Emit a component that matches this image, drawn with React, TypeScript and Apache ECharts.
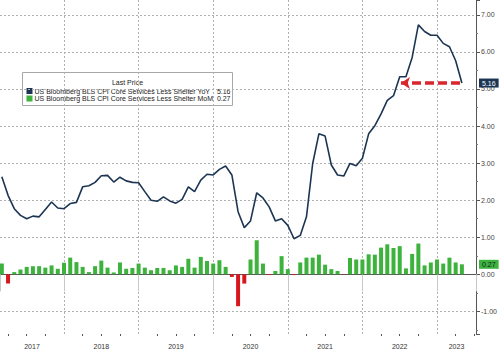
import React, { useEffect, useRef } from "react";
import * as echarts from "echarts";

// Month index (months since Jan 2017) of the first observation
const START_MONTH = 2;
const YEARS = [2017, 2018, 2019, 2020, 2021, 2022, 2023];

const YOY = [
  2.63, 2.13, 1.77, 1.59, 1.5, 1.57, 1.55, 1.75, 1.95, 1.79,
  1.77, 1.91, 1.94, 2.36, 2.39, 2.48, 2.66, 2.67, 2.49, 2.62,
  2.52, 2.48, 2.47, 2.23, 2.0, 1.97, 2.09, 1.98, 1.92, 2.02,
  2.36, 2.23, 2.54, 2.7, 2.68, 2.83, 2.92, 2.68, 1.69, 1.26,
  1.44, 2.2, 2.06, 1.82, 1.44, 1.5, 1.32, 0.96, 1.05, 1.55,
  2.99, 3.79, 3.73, 2.95, 2.68, 2.65, 2.99, 2.93, 3.13, 3.79,
  4.01, 4.33, 4.69, 4.82, 5.33, 5.33, 5.85, 6.73, 6.55, 6.45,
  6.45, 6.23, 6.14, 5.76, 5.16,
];

const MOM = [
  0.29, -0.25, 0.06, 0.13, 0.2, 0.22, 0.22, 0.18, 0.24, 0.15,
  0.31, 0.45, 0.33, 0.2, 0.06, 0.22, 0.37, 0.18, 0.05, 0.32,
  0.15, 0.17, 0.29, 0.18, 0.11, 0.17, 0.17, 0.11, 0.24, 0.2,
  0.42, 0.18, 0.47, 0.36, 0.29, 0.38, 0.2, -0.07, -0.86, -0.25,
  0.4, 0.92, 0.29, -0.02, 0.09, 0.49, 0.14, -0.02, 0.32, 0.45,
  0.45, 0.53, 0.26, 0.14, 0.09, -0.01, 0.44, 0.4, 0.4, 0.54,
  0.53, 0.72, 0.81, 0.71, 0.76, 0.16, 0.55, 0.83, 0.24, 0.32,
  0.4, 0.29, 0.45, 0.32, 0.27,
];

const YOY_NAME = "US Bloomberg BLS CPI Core Services Less Shelter YoY";
const MOM_NAME = "US Bloomberg BLS CPI Core Services Less Shelter MoM";
const LEGEND_TITLE = "Last Price";

const NAVY = "#1b3553";
const GREEN = "#3db33d";
const RED = "#d7161e";
const ARROW_RED = "#d9262e";
const FONT = "Liberation Sans";

export default function App() {
  const ref = useRef<HTMLDivElement>(null);

  useEffect(() => {
    if (!ref.current) return;
    const chart = echarts.init(ref.current, null, { renderer: "svg" });

    const xMin = 1.705;
    const xMax = 78.27;
    const months = YOY.map((_, i) => START_MONTH + i);
    const lastM = months[months.length - 1];
    const lastYoy = YOY[YOY.length - 1];
    const lastMom = MOM[MOM.length - 1];

    const labelVals = YEARS.map((y, k) => {
      const a = Math.max(k * 12, xMin);
      const b = Math.min((k + 1) * 12, xMax);
      return (a + b) / 2;
    });
    const quarterTicks: number[] = [];
    for (let m = 3; m < xMax; m += 3) if (m % 12 !== 0) quarterTicks.push(m);

    const hidden = { color: "rgba(0,0,0,0)", width: 0 };
    const tag = (val: number, bg: string, fg: string) => ({
      yAxis: val,
      lineStyle: hidden,
      label: {
        show: true,
        position: "end",
        distance: 3,
        formatter: val.toFixed(2),
        backgroundColor: bg,
        color: fg,
        fontSize: 7,
        fontFamily: FONT,
        padding: [1, 3, 1, 3],
        opacity: 1,
      },
    });

    const LEG_FS = 7;
    const legendText = (text: string, x: number, y: number, align: string) => ({
      type: "text",
      x,
      y,
      style: {
        text,
        fill: "#222",
        fontSize: LEG_FS,
        fontFamily: FONT,
        align,
        verticalAlign: "middle",
      },
    });

    const option: any = {
      animation: false,
      backgroundColor: "#ffffff",
      grid: { left: 0, right: 24, top: 0, bottom: 17, containLabel: false },
      xAxis: [
        {
          type: "value",
          position: "bottom",
          min: xMin,
          max: xMax,
          minInterval: 12,
          maxInterval: 12,
          axisLine: { show: true, lineStyle: { color: "#555", width: 1 } },
          axisTick: { show: true, length: 17, lineStyle: { color: "#c8c8c8" } },
          axisLabel: { show: false },
          splitLine: {
            show: true,
            showMinLine: false,
            showMaxLine: false,
            lineStyle: { color: "#b0b0b0", type: [2, 2], width: 1 },
          },
        },
        {
          type: "value",
          position: "bottom",
          min: xMin,
          max: xMax,
          axisLine: { show: false },
          axisTick: {
            show: true,
            customValues: quarterTicks,
            length: 2,
            lineStyle: { color: "#555" },
          },
          axisLabel: {
            show: true,
            customValues: labelVals,
            formatter: (v: number) => String(YEARS[0] + Math.floor(v / 12)),
            fontSize: 7,
            color: "#333",
            fontFamily: FONT,
            margin: 9,
          },
          splitLine: { show: false },
        },
      ],
      yAxis: {
        type: "value",
        position: "right",
        min: -1.61,
        max: 7.4,
        minInterval: 1,
        maxInterval: 1,
        axisLine: { show: true, lineStyle: { color: "#555" } },
        axisTick: { show: true, length: 4, lineStyle: { color: "#555" } },
        minorTick: { show: true, splitNumber: 2, length: 2, lineStyle: { color: "#777" } },
        axisLabel: {
          show: true,
          showMinLabel: false,
          showMaxLabel: false,
          formatter: (v: number) => v.toFixed(2),
          fontSize: 7,
          color: "#444",
          fontFamily: FONT,
          margin: 5,
        },
        splitLine: {
          show: true,
          showMinLine: false,
          showMaxLine: false,
          lineStyle: { color: "#b0b0b0", type: [2, 2], width: 1 },
        },
      },
      series: [
        {
          name: MOM_NAME,
          type: "bar",
          xAxisIndex: 0,
          barWidth: 4,
          data: MOM.map((v, i) => ({
            value: [months[i], v],
            itemStyle: { color: v >= 0 ? GREEN : RED },
          })),
          markLine: {
            silent: true,
            symbol: "none",
            data: [tag(lastMom, GREEN, "#10202a")],
          },
        },
        {
          name: YOY_NAME,
          type: "line",
          xAxisIndex: 0,
          data: YOY.map((v, i) => [months[i], v]),
          showSymbol: false,
          symbol: "none",
          lineStyle: { color: NAVY, width: 1.6 },
          z: 5,
          markLine: {
            silent: true,
            symbol: "none",
            data: [
              tag(lastYoy, NAVY, "#ffffff"),
              [
                {
                  coord: [lastM - 0.3, lastYoy],
                  symbol: "none",
                  lineStyle: { color: ARROW_RED, width: 3.5, type: [9, 4] },
                  label: { show: false },
                },
                {
                  coord: [66.2, lastYoy],
                  symbol: "arrow",
                  symbolSize: [9, 9],
                },
              ],
            ],
          },
        },
      ],
      graphic: [
        {
          type: "group",
          left: 22,
          top: 72,
          children: [
            {
              type: "rect",
              shape: { x: 0, y: 0, width: 210, height: 33 },
              style: { fill: "#fff", stroke: "#a8a8a8", lineWidth: 1 },
            },
            legendText(LEGEND_TITLE, 105, 9.5, "center"),
            {
              type: "rect",
              shape: { x: 4, y: 15.5, width: 6, height: 6 },
              style: { fill: NAVY },
            },
            legendText(YOY_NAME, 12, 18.5, "left"),
            legendText(lastYoy.toFixed(2), 208, 18.5, "right"),
            {
              type: "rect",
              shape: { x: 4, y: 23, width: 6, height: 6 },
              style: { fill: GREEN },
            },
            legendText(MOM_NAME, 12, 26, "left"),
            legendText(lastMom.toFixed(2), 208, 26, "right"),
          ],
        },
      ],
    };

    chart.setOption(option);
    return () => chart.dispose();
  }, []);

  return (
    <div
      ref={ref}
      style={{ position: "absolute", left: 0, top: 0, width: 500, height: 351 }}
    />
  );
}
